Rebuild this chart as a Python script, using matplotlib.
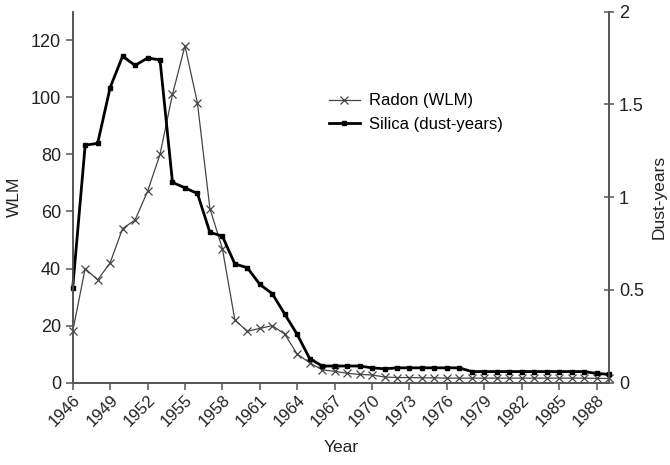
import matplotlib.pyplot as plt
from matplotlib.ticker import FuncFormatter

plt.rcParams['font.family'] = ['Liberation Sans', 'DejaVu Sans']

# exposure by calendar year
years = list(range(1946, 1990))
radon_wlm = [18, 40, 36, 42, 54, 57, 67, 80, 101, 118, 98, 61, 47, 22,
             18, 19, 20, 17, 10, 7, 4.5, 4, 3.3, 2.9, 2.7, 2, 1.8, 1.8,
             1.7, 1.7, 1.6, 1.6, 1.6, 1.6, 1.6, 1.6, 1.6, 1.6, 1.6, 1.6,
             1.6, 1.6, 1.5, 1.5]
silica_dy = [0.51, 1.28, 1.29, 1.59, 1.76, 1.71, 1.75, 1.74, 1.08, 1.05,
             1.02, 0.81, 0.79, 0.64, 0.62, 0.53, 0.48, 0.37, 0.26, 0.13,
             0.09, 0.09, 0.09, 0.09, 0.08, 0.075, 0.08, 0.08, 0.08, 0.08,
             0.08, 0.08, 0.06, 0.06, 0.06, 0.06, 0.06, 0.06, 0.06, 0.06,
             0.06, 0.06, 0.05, 0.045]
tick_years = list(range(1946, 1989, 3))

fig = plt.figure(figsize=(6.7, 4.65), dpi=100)
ax1 = fig.add_axes([0.1085, 0.177, 0.8005, 0.798])
ax2 = ax1.twinx()

spine_col = '#555555'

l1, = ax1.plot(years, radon_wlm, color='#444444', linewidth=0.9, marker='x',
               markersize=6, markeredgewidth=0.9, label='Radon (WLM)',
               clip_on=False)
l2, = ax2.plot(years, silica_dy, color='black', linewidth=2.0, marker='s',
               markersize=3.5, label='Silica (dust-years)', clip_on=False)

ax1.set_xlim(1946, 1989)
ax1.set_ylim(0, 130)
ax2.set_ylim(0, 2)
ax1.set_yticks(range(0, 121, 20))
ax2.set_yticks([0, 0.5, 1, 1.5, 2])
ax2.yaxis.set_major_formatter(FuncFormatter(lambda v, p: f'{v:g}'))
ax1.set_xticks(tick_years)
ax1.set_xticklabels([str(y) for y in tick_years], rotation=45,
                    ha='right', va='top', rotation_mode='anchor')

for ax in (ax1, ax2):
    ax.spines['top'].set_visible(False)
    for s in ('left', 'right', 'bottom'):
        ax.spines[s].set_color(spine_col)
        ax.spines[s].set_linewidth(1.2)
    ax.tick_params(colors=spine_col, labelcolor='#222222', labelsize=13,
                   width=1.1, length=5)
ax1.tick_params(axis='x', direction='out', length=5, pad=2, labelsize=12)
ax2.tick_params(axis='y', direction='inout', length=7)

ax1.set_xlabel('Year', fontsize=12.5, color='#222222', labelpad=8)
ax1.set_ylabel('WLM', fontsize=12.5, color='#222222', labelpad=6)
ax2.set_ylabel('Dust-years', fontsize=12.5, color='#222222', labelpad=6)

ax2.legend(handles=[l1, l2], loc='upper left', bbox_to_anchor=(0.449, 0.82),
           frameon=False, fontsize=12, handlelength=1.9, handletextpad=0.5,
           labelspacing=0.5)

fig.savefig('out.png', dpi=100)
